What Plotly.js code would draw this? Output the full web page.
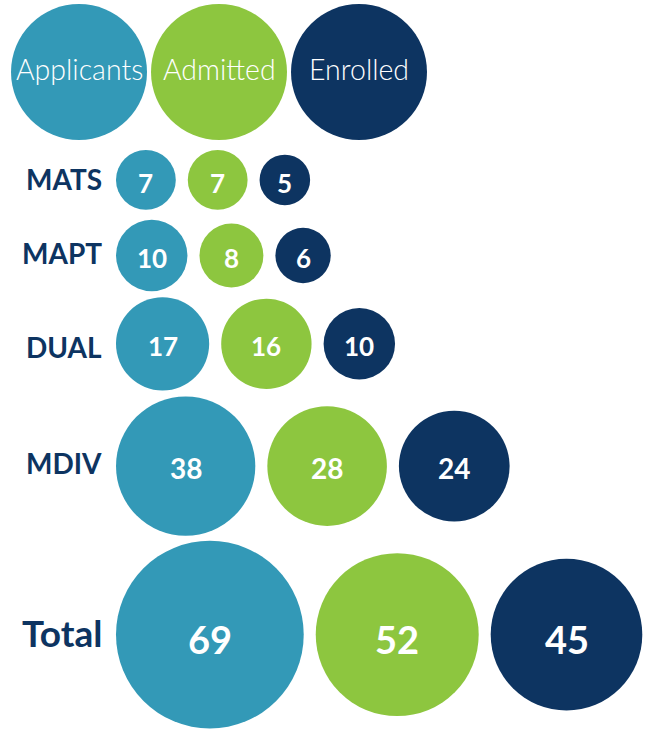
<!DOCTYPE html>
<html><head><meta charset="utf-8">
<script src="https://cdn.plot.ly/plotly-3.0.1.min.js"></script>
<style>html,body{margin:0;padding:0;background:#fff}#chart{width:650px;height:732px}</style>
</head><body><div id="chart"></div>
<script>
// ---- data ----
const programs = ["MATS", "MAPT", "DUAL", "MDIV", "Total"];
const stages = ["Applicants", "Admitted", "Enrolled"];
const applicants = [7, 10, 17, 38, 69];
const admitted = [7, 8, 16, 28, 52];
const enrolled = [5, 6, 10, 24, 45];

// ---- style / layout constants ----
const colors = ["#3399b7", "#8dc63f", "#0d3461"];
const navy = "#0d3461";
const K = 11.3;                 // px of radius per sqrt(value)
const series = [applicants, admitted, enrolled];
const rOf = v => K * Math.sqrt(v);
const headerR = 68, headerLeft = 11, headerGap = 4, headerY = 72;
const rowLeft = 116, colGap = 12;
const rowGaps = [10, 10, 6, 6, 5];
const numSizes = [26, 26, 26, 28, 38];
const numShift = [-3, -2, -2, -2, -4];
const labelSizes = [28, 28, 28, 28, 37];
const labelShift = [1, 3, -3, 3, 2];
const FONT = "Lato, 'Open Sans', sans-serif";

// header positions
const headerX = stages.map((s, i) => headerLeft + headerR + i * (2 * headerR + headerGap));

// row y positions (stacked by largest bubble)
const rowY = [];
let bottom = headerY + headerR;
programs.forEach((p, i) => {
  const maxR = Math.max(...series.map(s => rOf(s[i])));
  const c = bottom + rowGaps[i] + maxR;
  rowY.push(c);
  bottom = c + maxR;
});

// x positions: pack bubbles left to right
const xs = series.map(() => []);
programs.forEach((p, i) => {
  let edge = rowLeft;
  series.forEach((s, j) => {
    const r = rOf(s[i]);
    xs[j].push(edge + r);
    edge += 2 * r + colGap;
  });
});

const traces = [];
// header circles
traces.push({
  type: "scatter", mode: "markers",
  x: headerX, y: stages.map(() => headerY),
  marker: {size: 2 * headerR, color: colors, opacity: 1, line: {width: 0}},
  hoverinfo: "skip", cliponaxis: false
});
series.forEach((s, j) => {
  traces.push({
    type: "scatter", mode: "markers", name: stages[j],
    x: xs[j], y: rowY,
    marker: {size: s, sizemode: "area", sizeref: 1 / (2 * K * K), color: colors[j], opacity: 1, line: {width: 0}},
    hoverinfo: "skip", cliponaxis: false
  });
});

const annotations = [];
stages.forEach((s, j) => {
  annotations.push({
    x: headerX[j], y: headerY, xref: "x", yref: "y", xanchor: "center", yanchor: "middle",
    yshift: 3,
    text: s, showarrow: false,
    font: {family: FONT, size: 28.5, color: "#ffffff", weight: 300}
  });
});
programs.forEach((p, i) => {
  annotations.push({
    x: 104, y: rowY[i], xref: "x", yref: "y", xanchor: "right", yanchor: "middle",
    yshift: labelShift[i],
    text: p, showarrow: false,
    font: {family: FONT, size: labelSizes[i], color: navy, weight: 700}
  });
});
series.forEach((s, j) => {
  s.forEach((v, i) => {
    annotations.push({
      x: xs[j][i], y: rowY[i], xref: "x", yref: "y", xanchor: "center", yanchor: "middle",
      yshift: numShift[i],
      text: String(v), showarrow: false,
      font: {family: FONT, size: numSizes[i], color: "#ffffff", weight: 700}
    });
  });
});

const layout = {
  width: 650, height: 732,
  margin: {l: 0, r: 0, t: 0, b: 0},
  paper_bgcolor: "#ffffff", plot_bgcolor: "#ffffff",
  showlegend: false,
  xaxis: {range: [0, 650], visible: false, fixedrange: true},
  yaxis: {range: [732, 0], visible: false, fixedrange: true},
  annotations: annotations
};

Plotly.newPlot("chart", traces, layout, {displayModeBar: false, staticPlot: true});
</script>
</body></html>
